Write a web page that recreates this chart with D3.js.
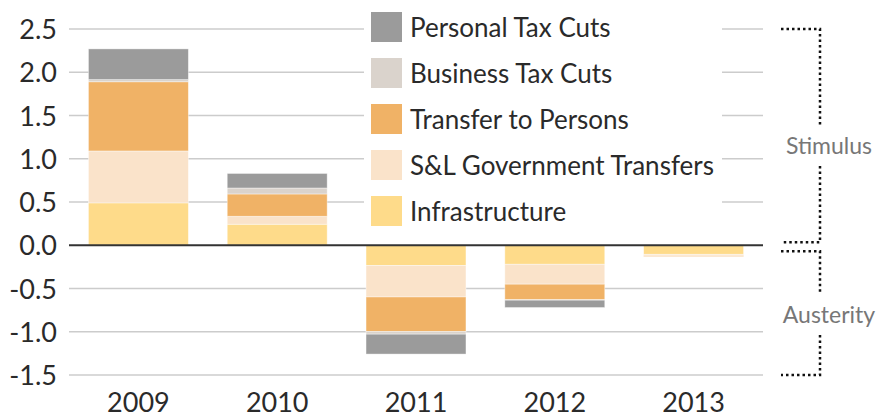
<!DOCTYPE html>
<html>
<head>
<meta charset="utf-8">
<script src="https://cdn.jsdelivr.net/npm/d3@7"></script>
<style>
  body { margin: 0; background: #fff; }
  svg text { font-family: Lato, "Open Sans", sans-serif; }
</style>
</head>
<body>
<svg id="chart" width="878" height="417"></svg>
<script>
// data
const years = ["2009", "2010", "2011", "2012", "2013"];
const infrastructure = [0.49, 0.243, -0.235, -0.22, -0.105];
const slTransfers = [0.60, 0.092, -0.363, -0.23, -0.015];
const transferPersons = [0.80, 0.258, -0.40, -0.18, -0.01];
const businessTax = [0.025, 0.069, -0.03, -0.005, 0];
const personalTax = [0.355, 0.168, -0.23, -0.085, 0];
const yTicks = [2.5, 2.0, 1.5, 1.0, 0.5, 0.0, -0.5, -1.0, -1.5];

const seriesKeys = ["infra", "sl", "transfer", "business", "personal"];
const seriesNames = {
  personal: "Personal Tax Cuts",
  business: "Business Tax Cuts",
  transfer: "Transfer to Persons",
  sl: "S&L Government Transfers",
  infra: "Infrastructure"
};
const colors = {
  personal: "#9b9b9b",
  business: "#dad3cc",
  transfer: "#f0b266",
  sl: "#fae3ca",
  infra: "#fedb8a"
};
const legendOrder = ["personal", "business", "transfer", "sl", "infra"];

const rows = years.map((y, i) => ({
  year: y,
  infra: infrastructure[i],
  sl: slTransfers[i],
  transfer: transferPersons[i],
  business: businessTax[i],
  personal: personalTax[i]
}));

const svg = d3.select("#chart");
const left = 69, right = 763;

const x = d3.scaleBand().domain(years).range([left, right]).paddingInner(0.28).paddingOuter(0.14);
const y = d3.scaleLinear().domain([-1.5, 2.5]).range([375, 29]);

// grid
svg.append("g").selectAll("line")
  .data(yTicks.filter(d => d !== 0))
  .join("line")
  .attr("x1", left).attr("x2", right)
  .attr("y1", d => y(d)).attr("y2", d => y(d))
  .attr("stroke", "#cccccc").attr("stroke-width", 1.5);

// y labels
svg.append("g").selectAll("text")
  .data(yTicks)
  .join("text")
  .attr("x", 57).attr("y", d => y(d) + 10)
  .attr("text-anchor", "end")
  .attr("font-size", 27)
  .attr("fill", "#2a2a2a")
  .text(d => d.toFixed(1));

// stacked bars
const stack = d3.stack().keys(seriesKeys).offset(d3.stackOffsetDiverging);
const layers = stack(rows);

svg.append("g").selectAll("g")
  .data(layers)
  .join("g")
  .attr("fill", d => colors[d.key])
  .selectAll("rect")
  .data(d => d)
  .join("rect")
  .attr("x", d => x(d.data.year))
  .attr("width", x.bandwidth())
  .attr("y", d => y(Math.max(d[0], d[1])))
  .attr("height", d => Math.abs(y(d[0]) - y(d[1])))
  .attr("stroke", "rgba(255,255,255,0.5)")
  .attr("stroke-width", 0.8);

// zero line
svg.append("line")
  .attr("x1", left).attr("x2", right)
  .attr("y1", y(0)).attr("y2", y(0))
  .attr("stroke", "#333").attr("stroke-width", 2);

// x labels
svg.append("g").selectAll("text")
  .data(years)
  .join("text")
  .attr("x", d => x(d) + x.bandwidth() / 2)
  .attr("y", 412)
  .attr("text-anchor", "middle")
  .attr("font-size", 27)
  .attr("fill", "#2a2a2a")
  .text(d => d);

// legend box
const legend = svg.append("g");
legend.append("rect")
  .attr("x", 364).attr("y", 4).attr("width", 358).attr("height", 226)
  .attr("fill", "#fff");
legendOrder.forEach((k, i) => {
  const cy = 27 + i * 46;
  legend.append("rect")
    .attr("x", 371).attr("y", cy - 15).attr("width", 31).attr("height", 30)
    .attr("fill", colors[k]);
  legend.append("text")
    .attr("x", 410).attr("y", cy + 10)
    .attr("font-size", 26)
    .attr("fill", "#2a2a2a")
    .text(seriesNames[k]);
});

// stimulus / austerity brackets
const dots = svg.append("g")
  .attr("fill", "none")
  .attr("stroke", "#111")
  .attr("stroke-width", 2.5)
  .attr("stroke-dasharray", "2.5,3");
const bx = 820;
dots.append("path").attr("d", `M781,${y(2.5)}H${bx}V126`);
dots.append("path").attr("d", `M${bx},166V${y(0) - 3}H781`);
dots.append("path").attr("d", `M781,${y(0) + 6}H${bx}V293`);
dots.append("path").attr("d", `M${bx},335V${y(-1.5)}H781`);

svg.append("text")
  .attr("x", 829).attr("y", 154)
  .attr("text-anchor", "middle")
  .attr("font-size", 23).attr("fill", "#777")
  .text("Stimulus");
svg.append("text")
  .attr("x", 829).attr("y", 323)
  .attr("text-anchor", "middle")
  .attr("font-size", 23).attr("fill", "#777")
  .text("Austerity");
</script>
</body>
</html>
